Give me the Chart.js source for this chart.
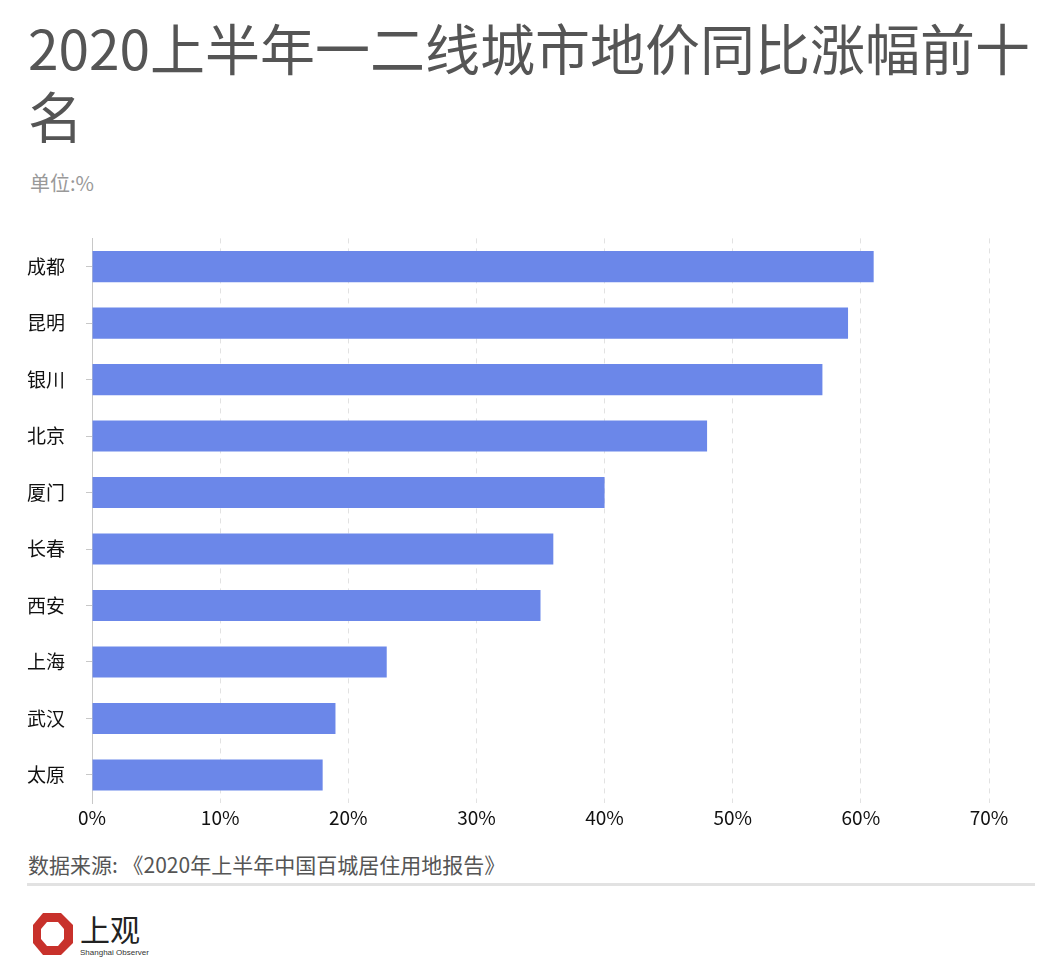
<!DOCTYPE html>
<html>
<head>
<meta charset="utf-8">
<script src="https://cdn.jsdelivr.net/npm/chart.js@4/dist/chart.umd.min.js"></script>
<style>
  body { margin: 0; background: #fff; font-family: "Noto Sans CJK SC", "Noto Sans", sans-serif; }
  #page { position: relative; width: 1064px; height: 972px; overflow: hidden; }
  #titulo { position: absolute; left: 28px; top: 12px; font-size: 55px; line-height: 68px; color: #555; margin: 0; font-weight: normal; }
  #unidad { position: absolute; left: 30px; top: 168px; font-size: 20px; color: #999; }
  #caja { position: absolute; left: 0; top: 224px; width: 1064px; height: 614px; }
  #fuente { position: absolute; left: 28px; top: 849px; font-size: 21px; color: #555; }
  #linea { position: absolute; left: 27px; top: 883px; width: 1008px; height: 3px; background: #e2e2e2; }
  #logo { position: absolute; left: 30px; top: 908px; }
</style>
</head>
<body>
<div id="page">
  <h1 id="titulo">2020上半年一二线城市地价同比涨幅前十<br>名</h1>
  <div id="unidad">单位:%</div>
  <div id="caja"><canvas id="grafica"></canvas></div>
  <div id="fuente">数据来源: 《2020年上半年中国百城居住用地报告》</div>
  <div id="linea"></div>
  <svg id="logo" width="200" height="56" viewBox="0 0 200 56">
    <polygon points="13,5 31,5 43,17 43,35 31,47 13,47 3,35 3,17" fill="#c8312b"/>
    <polygon points="17,14 28,14 34,21 34,31 28,38 17,38 11,31 11,21" fill="#fff"/>
    <text x="50" y="33" font-size="30" font-family="Noto Sans CJK SC" fill="#222">上观</text>
    <text x="50" y="47" font-size="8" font-family="Liberation Sans" fill="#333">Shanghai Observer</text>
  </svg>
</div>
<script>
const $grafica = document.querySelector("#grafica");

const ciudades = ['成都', '昆明', '银川', '北京', '厦门', '长春', '西安', '上海', '武汉', '太原'];
const subidas = [61, 59, 57, 48, 40, 36, 35, 23, 19, 18];
const marcas = [0, 10, 20, 30, 40, 50, 60, 70];

new Chart($grafica, {
    type: 'bar',
    data: {
        labels: ciudades,
        datasets: [{
            label: '涨幅',
            data: subidas,
            backgroundColor: '#6b87e9',
            barPercentage: 0.55,
            categoryPercentage: 1,
        }],
    },
    options: {
        indexAxis: 'y',
        responsive: true,
        maintainAspectRatio: false,
        animation: false,
        layout: { padding: { left: 27, right: 75, top: 12, bottom: 6 } },
        plugins: { legend: { display: false }, tooltip: { enabled: false } },
        scales: {
            x: {
                min: 0,
                max: 70,
                afterBuildTicks: (escala) => { escala.ticks = marcas.map(v => ({ value: v })); },
                ticks: {
                    color: '#111',
                    padding: 3,
                    font: { family: 'Noto Sans CJK SC', size: 19 },
                    callback: (v) => v + '%',
                },
                grid: { color: '#e2e2e2', drawTicks: false },
                border: { display: false, dash: [5, 5] },
            },
            y: {
                afterFit: (escala) => { escala.width = 65; },
                ticks: {
                    color: '#111',
                    crossAlign: 'far',
                    font: { family: 'Noto Sans CJK SC', size: 19 },
                },
                grid: { offset: false, drawOnChartArea: false, drawTicks: true, tickLength: 6, color: '#c8c8c8' },
                border: { display: true, color: '#c8c8c8', width: 1 },
            },
        },
    }
});
</script>
</body>
</html>
